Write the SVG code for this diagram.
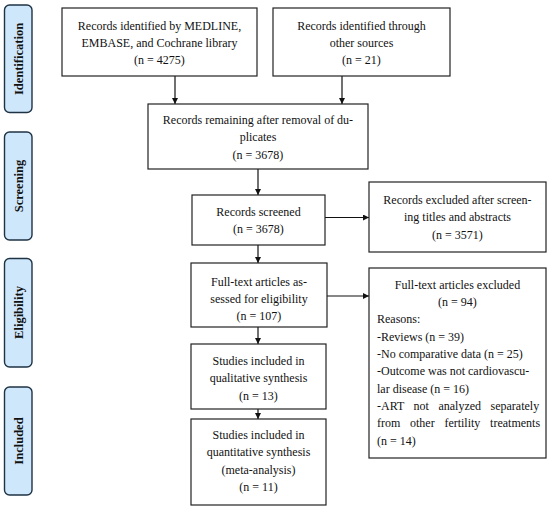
<svg xmlns="http://www.w3.org/2000/svg" width="550" height="507" viewBox="0 0 550 507">
<style>
.box{fill:#fff;stroke:#222;stroke-width:1.2}
.side{fill:#cfe7fb;stroke:#1e3344;stroke-width:1.4}
.t{font-family:'Liberation Serif','DejaVu Serif',serif;font-size:12px;fill:#111}
.c{text-anchor:middle}
.s{font-family:'Liberation Serif','DejaVu Serif',serif;font-size:12.5px;font-weight:bold;fill:#111;text-anchor:middle}
.ln{stroke:#111;stroke-width:1.2;fill:none}
</style>
<defs>
<marker id="ah" viewBox="0 0 10 10" refX="10" refY="5" markerWidth="6" markerHeight="6" markerUnits="userSpaceOnUse" orient="auto">
<path d="M0,0 L10,5 L0,10 z" fill="#111"/>
</marker>
</defs>
<g id="side-identification">
<rect class="side" x="4.5" y="5" width="27.5" height="107.5" rx="5"/>
<text class="s" transform="translate(22.5,59) rotate(-90)">Identification</text>
</g>
<g id="side-screening">
<rect class="side" x="4.5" y="132" width="27.5" height="108" rx="5"/>
<text class="s" transform="translate(22.5,186) rotate(-90)">Screening</text>
</g>
<g id="side-eligibility">
<rect class="side" x="4.5" y="258.5" width="27.5" height="108.5" rx="5"/>
<text class="s" transform="translate(22.5,312.5) rotate(-90)">Eligibility</text>
</g>
<g id="side-included">
<rect class="side" x="4.5" y="387" width="27.5" height="108" rx="5"/>
<text class="s" transform="translate(22.5,441) rotate(-90)">Included</text>
</g>
<g id="connectors">
<line class="ln" x1="175" y1="76" x2="175" y2="104" marker-end="url(#ah)"/>
<line class="ln" x1="342" y1="76" x2="342" y2="104" marker-end="url(#ah)"/>
<line class="ln" x1="258" y1="169" x2="258" y2="195" marker-end="url(#ah)"/>
<line class="ln" x1="325" y1="217.5" x2="369" y2="217.5" marker-end="url(#ah)"/>
<line class="ln" x1="258" y1="245" x2="258" y2="263" marker-end="url(#ah)"/>
<line class="ln" x1="327" y1="296" x2="369" y2="296" marker-end="url(#ah)"/>
<line class="ln" x1="258" y1="327" x2="258" y2="344" marker-end="url(#ah)"/>
<line class="ln" x1="258" y1="409" x2="258" y2="419" marker-end="url(#ah)"/>
</g>
<g id="box-databases">
<rect class="box" x="62" y="8" width="195" height="68"/>
<text class="t c" x="159.5" y="29.5">Records identified by MEDLINE,</text>
<text class="t c" x="159.5" y="46.5">EMBASE, and Cochrane library</text>
<text class="t c" x="159.5" y="64">(n = 4275)</text>
</g>
<g id="box-other">
<rect class="box" x="273" y="8" width="177" height="68"/>
<text class="t c" x="361.5" y="29.5">Records identified through</text>
<text class="t c" x="361.5" y="46.5">other sources</text>
<text class="t c" x="361.5" y="64">(n = 21)</text>
</g>
<g id="box-duplicates">
<rect class="box" x="148" y="104" width="220" height="65"/>
<text class="t c" x="258" y="124">Records remaining after removal of du-</text>
<text class="t c" x="258" y="141">plicates</text>
<text class="t c" x="258" y="158.5">(n = 3678)</text>
</g>
<g id="box-screened">
<rect class="box" x="192" y="195" width="133" height="50"/>
<text class="t c" x="258.5" y="215.5">Records screened</text>
<text class="t c" x="258.5" y="232.5">(n = 3678)</text>
</g>
<g id="box-excluded-screening">
<rect class="box" x="369" y="182" width="177" height="70"/>
<text class="t c" x="457.5" y="203.5">Records excluded after screen-</text>
<text class="t c" x="457.5" y="221">ing titles and abstracts</text>
<text class="t c" x="457.5" y="238.5">(n = 3571)</text>
</g>
<g id="box-fulltext">
<rect class="box" x="191" y="263" width="136" height="64"/>
<text class="t c" x="259" y="285.5">Full-text articles as-</text>
<text class="t c" x="259" y="302.5">sessed for eligibility</text>
<text class="t c" x="259" y="319.5">(n = 107)</text>
</g>
<g id="box-excluded-fulltext">
<rect class="box" x="369" y="268" width="177" height="190"/>
<text class="t c" x="457.5" y="288.5">Full-text articles excluded</text>
<text class="t c" x="457.5" y="306">(n = 94)</text>
<text class="t" x="377" y="323">Reasons:</text>
<text class="t" x="377" y="340.5">-Reviews (n = 39)</text>
<text class="t" x="377" y="358">-No comparative data (n = 25)</text>
<text class="t" x="377" y="375">-Outcome was not cardiovascu-</text>
<text class="t" x="377" y="392.5">lar disease (n = 16)</text>
<text class="t" x="377" y="410" style="word-spacing:6.5px">-ART not analyzed separately</text>
<text class="t" x="377" y="427" style="word-spacing:6.7px">from other fertility treatments</text>
<text class="t" x="377" y="444.5">(n = 14)</text>
</g>
<g id="box-qualitative">
<rect class="box" x="191" y="344" width="135" height="65"/>
<text class="t c" x="258.5" y="365">Studies included in</text>
<text class="t c" x="258.5" y="382">qualitative synthesis</text>
<text class="t c" x="258.5" y="399.5">(n = 13)</text>
</g>
<g id="box-quantitative">
<rect class="box" x="191" y="419" width="135" height="86"/>
<text class="t c" x="258.5" y="439">Studies included in</text>
<text class="t c" x="258.5" y="456">quantitative synthesis</text>
<text class="t c" x="258.5" y="473.5">(meta-analysis)</text>
<text class="t c" x="258.5" y="491">(n = 11)</text>
</g>
</svg>
